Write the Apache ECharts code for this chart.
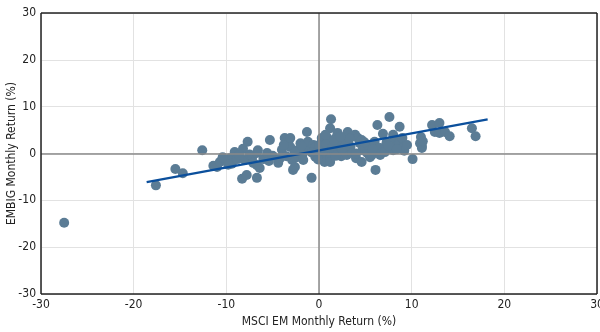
<!DOCTYPE html>
<html>
<head>
<meta charset="utf-8">
<script src="https://cdn.jsdelivr.net/npm/echarts@6/dist/echarts.min.js"></script>
<style>
html,body{margin:0;padding:0;background:#fff;}
#chart{width:600px;height:332px;}
</style>
</head>
<body>
<div id="chart"></div>
<script>
// MSCI EM monthly return (%) and EMBIG monthly return (%) for each month
const msciReturns = [
 -27.5,-17.6,-15.5,-14.7,-12.6,-11.4,-11.0,-10.7,-10.1,-9.6,-9.4,-9.1,-8.8,-8.3,-8.2,-8.0,-7.8,-7.7,-7.5,-7.2,
 -7.1,-6.7,-6.7,-6.6,-6.4,-6.7,-6.0,-5.6,-5.3,-5.0,-4.4,-4.0,-3.7,-3.3,-3.1,-3.1,-2.9,-2.8,-2.6,-2.4,
 -2.3,-2.0,-1.8,-1.7,-1.5,-1.3,-1.2,-1.0,-0.8,-0.6,-0.4,-0.4,-0.2,0.1,0.3,0.3,0.5,0.6,0.6,0.9,
 1.0,1.2,1.2,1.2,1.3,1.5,1.7,1.9,1.9,2.0,2.2,2.4,2.6,2.8,3.0,3.0,3.1,3.4,3.6,3.9,
 4.0,4.2,4.4,4.6,4.6,4.7,5.0,5.2,5.3,5.5,5.7,6.0,6.0,6.1,6.3,6.4,6.6,6.6,6.9,6.9,
 7.1,7.3,7.6,7.9,8.0,8.0,8.2,8.5,8.7,8.7,9.0,9.0,9.2,10.1,10.9,11.0,11.1,11.1,12.2,12.5,
 13.0,13.0,13.6,14.1,16.5,16.9,
 -0.8,0.0,0.4,0.8,1.4,1.8,2.1,2.5,2.9,3.3,-1.9,-2.6,-3.5,-4.2,-3.8,-5.4,-0.1,0.7,1.6,2.3,
 4.0,4.9,5.8,7.5,8.4,9.5,11.2,-8.6,-9.8,-10.4
];
const embigReturns = [
 -14.8,-6.8,-3.3,-4.2,0.7,-2.6,-2.9,-1.8,-1.4,-1.0,-2.2,0.3,-1.2,-5.4,1.0,-1.4,-4.6,2.5,-0.2,-0.7,
 -2.0,0.1,-5.2,0.7,-3.1,-2.5,-1.2,0.1,2.9,-0.5,-2.0,0.8,3.3,2.5,1.4,3.3,-1.4,-3.5,-2.9,-0.8,
 0.7,2.2,-0.3,-1.4,1.0,4.6,2.5,0.7,-5.2,1.8,-0.7,1.4,0.3,1.0,2.5,3.3,-0.2,-1.4,-1.8,3.3,
 0.8,-1.0,-1.8,5.4,7.3,2.0,0.1,2.2,3.5,4.4,1.2,-0.6,2.8,0.4,2.5,-0.3,4.6,1.5,0.1,4.0,
 -1.0,3.3,2.2,-1.8,2.9,0.7,1.2,0.1,1.8,-0.8,-0.3,1.8,2.5,-3.5,6.1,0.5,-0.3,1.2,4.2,0.7,
 0.3,2.4,7.8,1.2,4.0,0.7,3.0,2.0,5.7,2.2,1.2,3.3,0.6,-1.2,2.2,3.5,1.2,1.6,6.1,4.6,
 6.5,4.4,4.6,3.7,5.4,3.7,
 0.2,1.8,0.6,2.0,1.2,-0.5,2.6,1.0,1.9,3.2,1.6,0.2,-0.6,-1.0,1.8,-1.6,-1.3,4.0,2.9,3.6,
 0.0,2.4,0.9,1.6,0.9,1.8,2.6,-0.3,-2.4,-0.8
];
// regression line endpoints
const trendX = [-18.6, 18.2];
const trendY = [-6.1, 7.3];
const tickValues = [-30, -20, -10, 0, 10, 20, 30];

const points = msciReturns.map((x, i) => [x, embigReturns[i]]);
const trend = trendX.map((x, i) => [x, trendY[i]]);

const FONT = "'Liberation Sans Narrow','Arial Narrow','DejaVu Sans Condensed','Liberation Sans',sans-serif";
const chart = echarts.init(document.getElementById('chart'), null, {renderer: 'canvas'});
const axisCommon = {
  type: 'value', min: tickValues[0], max: tickValues[tickValues.length - 1], interval: 10,
  axisLine: {show: false}, axisTick: {show: false},
  splitLine: {show: true, lineStyle: {color: '#e2e2e2', width: 1}},
  axisLabel: {color: '#222', fontSize: 12, fontFamily: FONT},
  nameLocation: 'middle',
  nameMoveOverlap: false,
  nameTextStyle: {color: '#222', fontSize: 12, fontFamily: FONT}
};
chart.setOption({
  animation: false,
  backgroundColor: '#fff',
  grid: {left: 41, right: 3, top: 13, bottom: 38, containLabel: false, outerBoundsMode: 'none'},
  xAxis: Object.assign({}, axisCommon, {
    name: 'MSCI EM Monthly Return (%)', nameGap: 22,
    axisLabel: Object.assign({}, axisCommon.axisLabel, {margin: 5})
  }),
  yAxis: Object.assign({}, axisCommon, {
    name: 'EMBIG Monthly Return (%)', nameGap: 23,
    axisLabel: Object.assign({}, axisCommon.axisLabel, {margin: 5})
  }),
  series: [
    {
      type: 'line', data: [], z: 1, silent: true,
      markLine: {
        silent: true, symbol: 'none', animation: false,
        label: {show: false},
        lineStyle: {color: '#8a8a8a', width: 1.5, type: 'solid'},
        data: [{xAxis: 0}, {yAxis: 0}]
      }
    },
    {
      type: 'scatter', data: points, z: 3,
      symbol: 'circle', symbolSize: 10,
      itemStyle: {color: '#5b7c95', opacity: 1}
    },
    {
      type: 'line', data: trend, z: 4, symbol: 'none',
      lineStyle: {color: '#0b4f9c', width: 2.2}
    },
    {
      type: 'line', data: [], z: 5, silent: true,
      markLine: {
        silent: true, symbol: 'none', animation: false,
        label: {show: false},
        lineStyle: {color: '#222', width: 1.5, type: 'solid'},
        data: [{xAxis: -30}, {xAxis: 30}, {yAxis: -30}, {yAxis: 30}]
      }
    }
  ]
});
</script>
</body>
</html>
